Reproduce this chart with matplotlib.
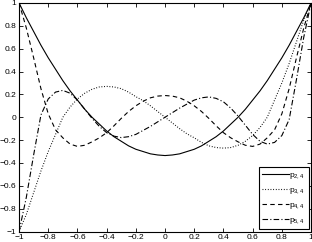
import matplotlib
matplotlib.use("Agg")
import matplotlib.pyplot as plt
import numpy as np

# values, x = -1 .. 1 in steps of 0.05
x = np.round(np.arange(-1, 1.0001, 0.05), 2)

p24 = [1.0, 0.87, 0.75, 0.63, 0.52, 0.42, 0.32, 0.23, 0.15, 0.07, 0.0,
       -0.06, -0.12, -0.17, -0.21, -0.25, -0.28, -0.30, -0.32, -0.33, -0.335,
       -0.33, -0.32, -0.30, -0.28, -0.25, -0.21, -0.17, -0.12, -0.06, 0.0,
       0.07, 0.15, 0.23, 0.32, 0.42, 0.52, 0.63, 0.75, 0.87, 1.0]

p34 = [-1.0, -0.85, -0.66, -0.47, -0.30, -0.15, 0.0, 0.09, 0.16, 0.21, 0.245,
       0.265, 0.27, 0.265, 0.25, 0.22, 0.18, 0.145, 0.10, 0.05, 0.0,
       -0.05, -0.10, -0.145, -0.18, -0.22, -0.25, -0.265, -0.27, -0.265, -0.245,
       -0.21, -0.16, -0.09, 0.0, 0.15, 0.30, 0.47, 0.66, 0.85, 1.0]

p44 = [1.0, 0.78, 0.52, 0.25, 0.03, -0.11, -0.18, -0.235, -0.255, -0.245, -0.215,
       -0.18, -0.135, -0.075, -0.01, 0.05, 0.10, 0.14, 0.17, 0.185, 0.19,
       0.185, 0.17, 0.14, 0.10, 0.05, -0.01, -0.075, -0.135, -0.18, -0.215,
       -0.245, -0.255, -0.235, -0.18, -0.11, 0.03, 0.25, 0.52, 0.78, 1.0]

p54 = [-1.0, -0.70, -0.33, 0.02, 0.16, 0.22, 0.235, 0.21, 0.15, 0.07, -0.01,
       -0.08, -0.135, -0.165, -0.178, -0.17, -0.15, -0.115, -0.08, -0.04, 0.0,
       0.04, 0.08, 0.115, 0.15, 0.17, 0.178, 0.165, 0.135, 0.08, 0.01,
       -0.07, -0.15, -0.21, -0.235, -0.22, -0.16, -0.02, 0.33, 0.70, 1.0]

labels = [r"$\mathregular{p_{2,4}}$", r"$\mathregular{p_{3,4}}$",
          r"$\mathregular{p_{4,4}}$", r"$\mathregular{p_{5,4}}$"]

plt.rcParams["font.family"] = ["Liberation Sans", "DejaVu Sans"]
plt.rcParams["font.size"] = 6

fig = plt.figure(figsize=(3.12, 2.42), dpi=100)
ax = fig.add_axes([0.061, 0.043, 0.936, 0.945])

ax.plot(x, p24, "k-", lw=0.8, label=labels[0])
ax.plot(x, p34, color="k", ls=(0, (0.8, 1.6)), lw=0.8, label=labels[1])
ax.plot(x, p44, color="k", ls=(0, (4, 3)), lw=0.8, label=labels[2])
ax.plot(x, p54, color="k", ls=(0, (5, 2, 1, 2)), lw=0.8, label=labels[3])

ax.set_xlim(-1, 1)
ax.set_ylim(-1, 1)
ticks = np.round(np.arange(-1, 1.0001, 0.2), 1)
ax.set_xticks(ticks)
ax.set_yticks(ticks)
ax.set_xticklabels(["\u22121" if t == -1 else ("1" if t == 1 else ("0" if t == 0 else f"{t:g}".replace("-", "\u2212"))) for t in ticks])
ax.set_yticklabels(["\u22121" if t == -1 else ("1" if t == 1 else ("0" if t == 0 else f"{t:g}".replace("-", "\u2212"))) for t in ticks])
ax.tick_params(direction="in", top=True, right=True, length=3, width=0.6, pad=2, labelsize=6)
for s in ax.spines.values():
    s.set_linewidth(0.8)

leg = ax.legend(loc="lower right", fontsize=6, frameon=True, fancybox=False,
                edgecolor="k", framealpha=1, handlelength=3.2, handletextpad=0.1,
                borderpad=0.4, labelspacing=0.6, borderaxespad=0.3)
leg.get_frame().set_linewidth(0.8)

fig.savefig("out.png", dpi=100)
